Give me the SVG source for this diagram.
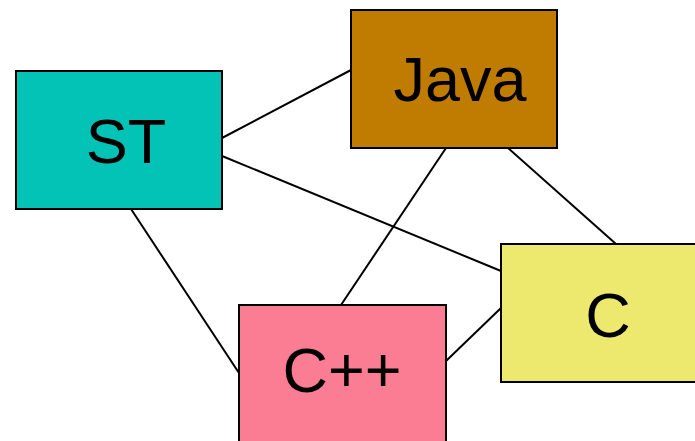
<svg xmlns="http://www.w3.org/2000/svg" width="695" height="441" viewBox="0 0 695 441">
<style>
.box{stroke:#000;stroke-width:2}
.lbl{font-family:"Liberation Sans",Arial,sans-serif;font-size:63px;fill:#000;text-anchor:middle}
.edge{stroke:#000;stroke-width:2;fill:none}
</style>
<rect width="695" height="441" fill="#fff"/>
<g id="connectors">
<line class="edge" x1="222" y1="138" x2="351" y2="70"/>
<line class="edge" x1="222" y1="156" x2="501" y2="271"/>
<line class="edge" x1="131" y1="209" x2="239" y2="373"/>
<line class="edge" x1="446" y1="148" x2="341" y2="305"/>
<line class="edge" x1="508" y1="148" x2="616" y2="244"/>
<line class="edge" x1="446" y1="361" x2="501" y2="308"/>
</g>
<g id="ST">
<rect class="box" x="16" y="71" width="206" height="138" fill="#03c3b7"/>
<text class="lbl" x="126" y="163">ST</text>
</g>
<g id="Java">
<rect class="box" x="351" y="10" width="206" height="138" fill="#bf7c00"/>
<text class="lbl" x="460" y="101">Java</text>
</g>
<g id="C">
<rect class="box" x="501" y="244" width="200" height="138" fill="#ece96e"/>
<text class="lbl" x="608" y="337">C</text>
</g>
<g id="Cpp">
<rect class="box" x="239" y="305" width="207" height="145" fill="#fb7d93"/>
<text class="lbl" x="342" y="392">C++</text>
</g>
</svg>
